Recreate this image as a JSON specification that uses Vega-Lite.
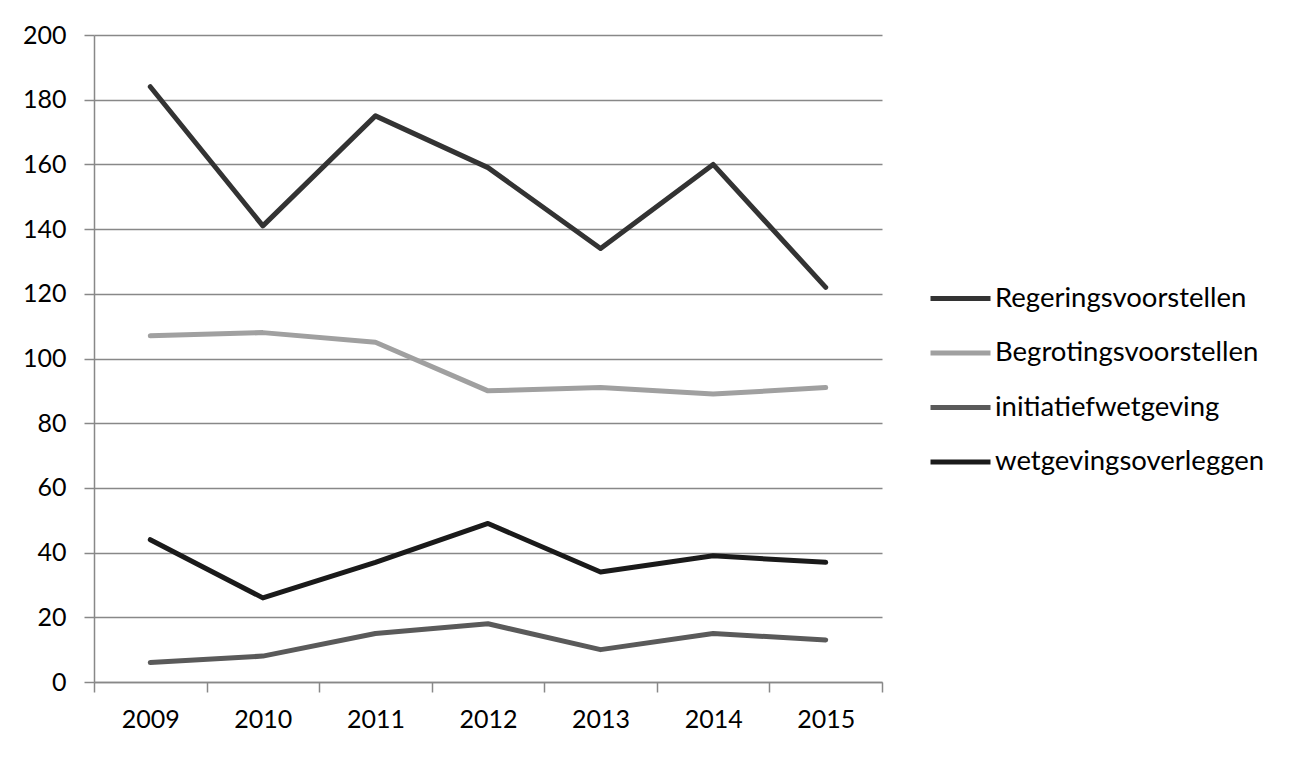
{
  "$schema": "https://vega.github.io/schema/vega-lite/v6.json",
  "width": 788,
  "height": 647,
  "autosize": {"type": "none"},
  "padding": {"left": 94, "top": 35, "right": 417, "bottom": 77},
  "background": "white",
  "config": {
    "view": {"stroke": null},
    "font": "Lato"
  },
  "data": {
    "values": [
      {"year": "2009", "series": "Regeringsvoorstellen", "value": 184},
      {"year": "2010", "series": "Regeringsvoorstellen", "value": 141},
      {"year": "2011", "series": "Regeringsvoorstellen", "value": 175},
      {"year": "2012", "series": "Regeringsvoorstellen", "value": 159},
      {"year": "2013", "series": "Regeringsvoorstellen", "value": 134},
      {"year": "2014", "series": "Regeringsvoorstellen", "value": 160},
      {"year": "2015", "series": "Regeringsvoorstellen", "value": 122},
      {"year": "2009", "series": "Begrotingsvoorstellen", "value": 107},
      {"year": "2010", "series": "Begrotingsvoorstellen", "value": 108},
      {"year": "2011", "series": "Begrotingsvoorstellen", "value": 105},
      {"year": "2012", "series": "Begrotingsvoorstellen", "value": 90},
      {"year": "2013", "series": "Begrotingsvoorstellen", "value": 91},
      {"year": "2014", "series": "Begrotingsvoorstellen", "value": 89},
      {"year": "2015", "series": "Begrotingsvoorstellen", "value": 91},
      {"year": "2009", "series": "initiatiefwetgeving", "value": 6},
      {"year": "2010", "series": "initiatiefwetgeving", "value": 8},
      {"year": "2011", "series": "initiatiefwetgeving", "value": 15},
      {"year": "2012", "series": "initiatiefwetgeving", "value": 18},
      {"year": "2013", "series": "initiatiefwetgeving", "value": 10},
      {"year": "2014", "series": "initiatiefwetgeving", "value": 15},
      {"year": "2015", "series": "initiatiefwetgeving", "value": 13},
      {"year": "2009", "series": "wetgevingsoverleggen", "value": 44},
      {"year": "2010", "series": "wetgevingsoverleggen", "value": 26},
      {"year": "2011", "series": "wetgevingsoverleggen", "value": 37},
      {"year": "2012", "series": "wetgevingsoverleggen", "value": 49},
      {"year": "2013", "series": "wetgevingsoverleggen", "value": 34},
      {"year": "2014", "series": "wetgevingsoverleggen", "value": 39},
      {"year": "2015", "series": "wetgevingsoverleggen", "value": 37}
    ]
  },
  "mark": {"type": "line", "strokeWidth": 5, "strokeCap": "round", "strokeJoin": "round"},
  "encoding": {
    "x": {
      "field": "year",
      "type": "ordinal",
      "bandPosition": 0.5,
      "scale": {"type": "band", "paddingInner": 0, "paddingOuter": 0},
      "axis": {
        "title": null,
        "labelAngle": 0,
        "tickBand": "extent",
        "domainColor": "#888888",
        "domainWidth": 1.5,
        "tickColor": "#888888",
        "tickWidth": 1.5,
        "tickSize": 10,
        "labelFontSize": 25,
        "labelColor": "#000000",
        "labelPadding": 15,
        "grid": false
      }
    },
    "y": {
      "field": "value",
      "type": "quantitative",
      "scale": {"domain": [0, 200], "nice": false},
      "axis": {
        "title": null,
        "values": [0, 20, 40, 60, 80, 100, 120, 140, 160, 180, 200],
        "domainColor": "#888888",
        "domainWidth": 1.5,
        "tickColor": "#888888",
        "tickWidth": 1.5,
        "tickSize": 10,
        "gridColor": "#888888",
        "gridWidth": 1.5,
        "gridOpacity": 1,
        "labelFontSize": 25,
        "labelColor": "#000000",
        "labelPadding": 18
      }
    },
    "color": {
      "field": "series",
      "type": "nominal",
      "scale": {
        "domain": ["Regeringsvoorstellen", "Begrotingsvoorstellen", "initiatiefwetgeving", "wetgevingsoverleggen"],
        "range": ["#333333", "#a0a0a0", "#5a5a5a", "#1a1a1a"]
      },
      "legend": {
        "title": null,
        "orient": "none",
        "legendX": 834,
        "legendY": 231,
        "symbolType": "stroke",
        "symbolSize": 3600,
        "symbolStrokeWidth": 5,
        "labelFontSize": 27.5,
        "labelColor": "#000000",
        "labelOffset": 2,
        "labelLimit": 400,
        "rowPadding": 8.5
      }
    }
  }
}
